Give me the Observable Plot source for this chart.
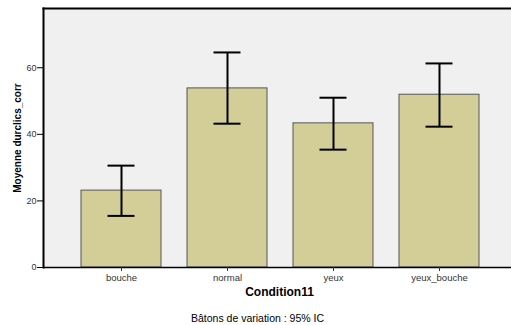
<!DOCTYPE html>
<html><head><meta charset="utf-8">
<script src="https://cdn.jsdelivr.net/npm/d3@7"></script>
<script src="https://cdn.jsdelivr.net/npm/@observablehq/plot@0.6"></script>
<style>
html,body{margin:0;padding:0;background:#fff;}
svg{display:block;font-family:"Liberation Sans",Arial,sans-serif;}
</style></head>
<body><div id="chart"></div>
<script>
const categories = ["bouche", "normal", "yeux", "yeux_bouche"];
const means = [23.1, 53.8, 43.3, 51.9];
const lower = [15.5, 43.2, 35.4, 42.3];
const upper = [30.6, 64.6, 51.0, 61.3];
const yTicks = [0, 20, 40, 60];
const xTitle = "Condition11";
const yTitle = "Moyenne durclics_corr";
const caption = "Bâtons de variation : 95% IC";

const data = categories.map((c, i) => ({cat: c, mean: means[i], lo: lower[i], hi: upper[i]}));

const W = 511, H = 325;
const chart = Plot.plot({
  width: W, height: H,
  marginTop: 8, marginLeft: 43, marginRight: 0, marginBottom: 58,
  style: {fontFamily: "Liberation Sans, Arial, sans-serif", background: "#fff", overflow: "visible"},
  x: {domain: categories, range: [53.4, 505.2], padding: 0.25, align: 0.5, label: null},
  y: {domain: [0, 77.8], label: null},
  marks: [
    Plot.frame({fill: "#f0f0f0", stroke: null}),
    Plot.barY(data, {x: "cat", y: "mean", fill: "#d3ce97", stroke: "#555", strokeWidth: 1}),
    Plot.ruleX(data, {x: "cat", y1: "lo", y2: "hi", stroke: "#000", strokeWidth: 2}),
    Plot.tickY(data, {x: "cat", y: "lo", stroke: "#000", strokeWidth: 2, insetLeft: 26.5, insetRight: 26.5}),
    Plot.tickY(data, {x: "cat", y: "hi", stroke: "#000", strokeWidth: 2, insetLeft: 26.5, insetRight: 26.5}),
    Plot.frame({anchor: "left", stroke: "#000", strokeWidth: 2}),
    Plot.frame({anchor: "top", stroke: "#000", strokeWidth: 2}),
    Plot.ruleY([0], {stroke: "#000", strokeWidth: 1.5}),
    Plot.axisY({ticks: yTicks, tickSize: 6, tickPadding: 1, fontSize: 9, color: "#333", stroke: "#000", label: null}),
    Plot.axisX({tickSize: 4, tickPadding: 3, fontSize: 9.5, color: "#333", label: null}),
    Plot.text([xTitle], {frameAnchor: "bottom", dy: 28, dx: 2, text: d => d, fontSize: 12, fontWeight: "bold", fill: "#000"}),
    Plot.text([caption], {frameAnchor: "bottom", dy: 54, dx: -20, text: d => d, fontSize: 10.5, fill: "#000"}),
    Plot.text([yTitle], {frameAnchor: "left", dx: -26, rotate: -90, textAnchor: "middle", text: d => d, fontSize: 10, fontWeight: "bold", fill: "#000"})
  ]
});
document.getElementById("chart").append(chart);
</script></body></html>
